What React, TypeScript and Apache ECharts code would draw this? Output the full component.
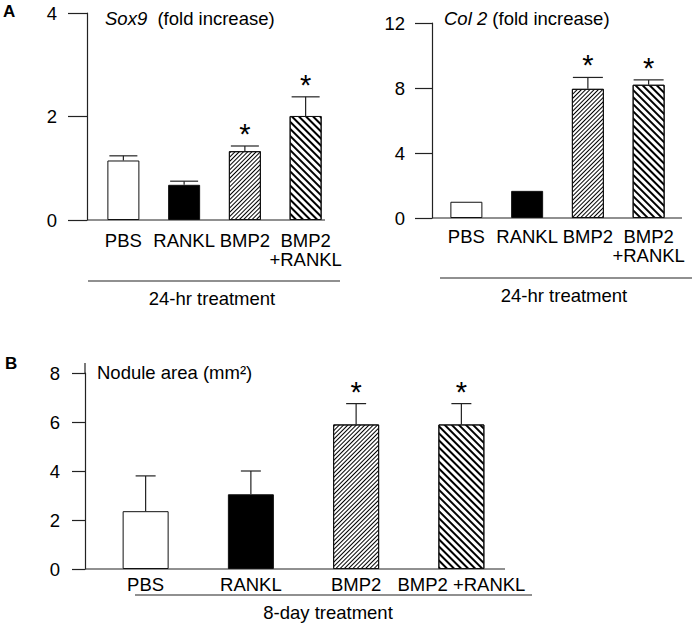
import React, { useEffect, useRef } from 'react';
import * as echarts from 'echarts';

const categoriesA = ['PBS', 'RANKL', 'BMP2', 'BMP2\n+RANKL'];
const categoriesB = ['PBS', 'RANKL', 'BMP2', 'BMP2 +RANKL'];
const sox9Mean = [1.15, 0.68, 1.33, 2.01];
const sox9Err = [0.09, 0.07, 0.1, 0.37];
const col2Mean = [1.0, 1.67, 7.95, 8.2];
const col2Err = [0, 0, 0.7, 0.3];
const noduleMean = [2.36, 3.05, 5.9, 5.9];
const noduleErr = [1.44, 0.95, 0.85, 0.85];
const significant = [false, false, true, true];

const FONT = '"Liberation Sans", Arial, sans-serif';
const FS = 18.5;

function barStyle(i: number) {
  const base = { borderColor: '#111', borderWidth: 1 };
  if (i === 0) return { ...base, color: '#fff' };
  if (i === 1) return { ...base, color: '#000' };
  if (i === 2)
    return {
      ...base,
      color: '#fff',
      decal: {
        symbol: 'rect',
        symbolSize: 1,
        dashArrayX: [1, 0],
        dashArrayY: [1, 2],
        rotation: -Math.PI / 4,
        color: '#000',
        backgroundColor: '#fff',
      },
    };
  return {
    ...base,
    color: '#fff',
    decal: {
      symbol: 'rect',
      symbolSize: 1,
      dashArrayX: [1, 0],
      dashArrayY: [2, 3],
      rotation: Math.PI / 4,
      color: '#000',
      backgroundColor: '#fff',
    },
  };
}

function barSeries(idx: number, means: number[], width: number) {
  return {
    type: 'bar',
    xAxisIndex: idx,
    yAxisIndex: idx,
    barWidth: width,
    z: 2,
    data: means.map((v, i) => ({ value: v, itemStyle: barStyle(i) })),
  };
}

function errSeries(idx: number, means: number[], errs: number[], capW: number) {
  return {
    type: 'custom',
    xAxisIndex: idx,
    yAxisIndex: idx,
    z: 5,
    encode: { x: 0, y: 1 },
    data: means.map((m, i) => [i, m, m + errs[i], significant[i] ? 1 : 0]),
    renderItem: (params: any, api: any) => {
      const i = api.value(0);
      const m = api.value(1);
      const u = api.value(2);
      const s = api.value(3);
      const p0 = api.coord([i, m]);
      const p1 = api.coord([i, u]);
      const st = { stroke: '#222', lineWidth: 1.2 };
      const children: any[] = [];
      if (u > m) {
        children.push({ type: 'line', shape: { x1: p0[0], y1: p0[1], x2: p0[0], y2: p1[1] }, style: st });
        children.push({
          type: 'line',
          shape: { x1: p0[0] - capW / 2, y1: p1[1], x2: p0[0] + capW / 2, y2: p1[1] },
          style: st,
        });
      }
      if (s) {
        children.push({
          type: 'text',
          x: p0[0],
          y: p1[1] - 12,
          style: { text: '*', fontSize: 29, fontFamily: FONT, fill: '#000', align: 'center', verticalAlign: 'middle' },
        });
      }
      return { type: 'group', children };
    },
  };
}

function yAxis(idx: number, max: number, interval: number, offset: number, tickLen: number, margin: number) {
  return {
    type: 'value',
    gridIndex: idx,
    min: 0,
    max,
    interval,
    offset,
    splitLine: { show: false },
    axisLine: { show: true, lineStyle: { color: '#222', width: 1.2 } },
    axisTick: { show: true, length: tickLen, lineStyle: { color: '#222', width: 1.2 } },
    axisLabel: { color: '#000', fontSize: FS, fontFamily: FONT, margin },
  };
}

function xAxis(idx: number, cats: string[], margin: number) {
  return {
    type: 'category',
    gridIndex: idx,
    data: cats,
    axisLine: { show: false },
    axisTick: { show: false },
    splitLine: { show: false },
    axisLabel: { interval: 0, color: '#000', fontSize: FS, fontFamily: FONT, margin, lineHeight: 19 },
  };
}

const line = (x1: number, y1: number, x2: number, y2: number) => ({
  type: 'line',
  shape: { x1, y1, x2, y2 },
  style: { stroke: '#222', lineWidth: 1.2 },
  silent: true,
});

const txt = (x: number, y: number, text: string, extra: any = {}) => ({
  type: 'text',
  x,
  y,
  style: { text, fontSize: FS, fontFamily: FONT, fill: '#000', verticalAlign: 'middle', ...extra },
});

export default function App() {
  const ref = useRef<HTMLDivElement>(null);
  useEffect(() => {
    if (!ref.current) return;
    const chart = echarts.init(ref.current, undefined, { renderer: 'svg' });
    chart.setOption({
      animation: false,
      backgroundColor: '#fff',
      grid: [
        { left: 93, width: 243, top: 13, height: 207 },
        { left: 436, width: 243, top: 23, height: 195 },
        { left: 93, width: 421, top: 373, height: 196 },
      ],
      xAxis: [xAxis(0, categoriesA, 11), xAxis(1, categoriesA, 9), xAxis(2, categoriesB, 6)],
      yAxis: [yAxis(0, 4, 2, 6, 19, 30), yAxis(1, 12, 4, 4, 17, 27), yAxis(2, 8, 2, 8, 13, 25)],
      series: [
        barSeries(0, sox9Mean, 32),
        barSeries(1, col2Mean, 32),
        barSeries(2, noduleMean, 46),
        errSeries(0, sox9Mean, sox9Err, 28),
        errSeries(1, col2Mean, col2Err, 30),
        errSeries(2, noduleMean, noduleErr, 20),
      ],
      graphic: [
        line(87, 220, 325, 220),
        line(432, 218, 682, 218),
        line(85, 569, 505, 569),
        line(85, 363, 85, 373),
        line(88, 281, 340, 281),
        line(440, 278, 692, 278),
        line(135, 595, 532, 595),
        txt(212, 298, '24-hr treatment', { align: 'center' }),
        txt(564, 295, '24-hr treatment', { align: 'center' }),
        txt(328, 612, '8-day treatment', { align: 'center' }),
        txt(105, 18, '{i|Sox9}  (fold increase)', {
          rich: { i: { fontStyle: 'italic', fontSize: FS, fontFamily: FONT, fill: '#000' } },
        }),
        txt(444, 18, '{i|Col 2} (fold increase)', {
          rich: { i: { fontStyle: 'italic', fontSize: FS, fontFamily: FONT, fill: '#000' } },
        }),
        txt(97, 372, 'Nodule area (mm²)'),
        txt(3, 11, 'A', { fontWeight: 'bold', fontSize: 17 }),
        txt(5, 363, 'B', { fontWeight: 'bold', fontSize: 17 }),
      ],
    });
    return () => chart.dispose();
  }, []);
  return (
    <div
      ref={ref}
      style={{ position: 'absolute', left: 0, top: 0, width: 700, height: 624, background: '#fff' }}
    />
  );
}
